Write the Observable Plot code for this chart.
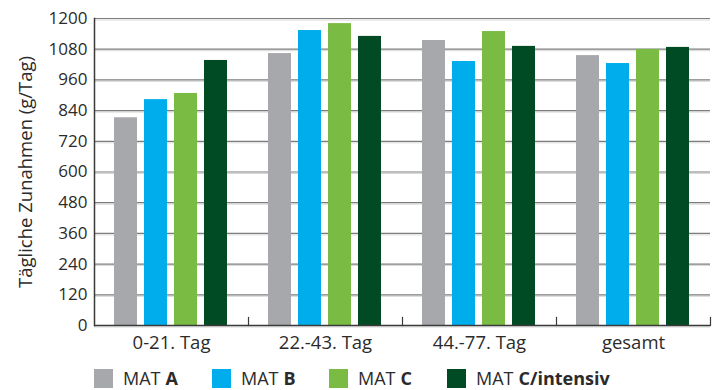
<!DOCTYPE html>
<html>
<head>
<meta charset="utf-8">
<script src="https://cdn.jsdelivr.net/npm/d3@7"></script>
<script src="https://cdn.jsdelivr.net/npm/@observablehq/plot@0.6"></script>
<style>
  html, body { margin: 0; padding: 0; background: #fff; }
  body { width: 713px; height: 390px; overflow: hidden; font-family: "Open Sans", sans-serif; }
  #legend { display: flex; position: relative; height: 30px; }
  .item { position: absolute; top: 6px; display: flex; align-items: center; font-size: 18px; color: #2b2b2b; }
  .sw { width: 19px; height: 19px; margin-right: 10px; }
  .item b { font-weight: 700; margin-left: 5px; }
</style>
</head>
<body>
<div id="chart"></div>
<div id="legend"></div>
<script>
const periods = ["0-21. Tag", "22.-43. Tag", "44.-77. Tag", "gesamt"];
const series = ["MAT A", "MAT B", "MAT C", "MAT C/intensiv"];
const legendPrefix = "MAT";
const legendBold = ["A", "B", "C", "C/intensiv"];
const valuesA = [812, 1063, 1114, 1055];
const valuesB = [883, 1153, 1032, 1024];
const valuesC = [907, 1180, 1149, 1079];
const valuesCi = [1036, 1130, 1091, 1087];
const yTicks = [0, 120, 240, 360, 480, 600, 720, 840, 960, 1080, 1200];
const colors = ["#a7a8ab", "#00adec", "#79bb43", "#004b24"];
const legendX = [94, 212, 329, 447];

const allValues = [valuesA, valuesB, valuesC, valuesCi];
const data = [];
periods.forEach((p, i) => {
  series.forEach((s, j) => data.push({period: p, series: s, value: allValues[j][i]}));
});

const chart = Plot.plot({
  width: 713,
  height: 360,
  marginLeft: 94,
  marginRight: 3,
  marginTop: 18,
  marginBottom: 35,
  style: {fontFamily: "Open Sans, sans-serif", fontSize: "17px", color: "#2b2b2b", background: "#fff"},
  fx: {domain: periods, padding: 0, label: null},
  x: {domain: series, paddingInner: 0.22, paddingOuter: 0.62, axis: null},
  y: {domain: [0, 1200], ticks: yTicks},
  color: {domain: series, range: colors},
  marks: [
    Plot.gridY(yTicks, {stroke: "#d8d8d8", strokeOpacity: 1, strokeWidth: 1, dy: 1.5}),
    Plot.gridY(yTicks, {stroke: "#7d7d7d", strokeOpacity: 1, strokeWidth: 1.2}),
    Plot.barY(data, {fx: "period", x: "series", y: "value", fill: "series"}),
    Plot.ruleY([0], {stroke: "#3a3a3a", strokeWidth: 1.5}),
    Plot.frame({anchor: "right", stroke: "#3a3a3a", strokeWidth: 1.2, insetTop: 299}),
    Plot.frame({anchor: "left", facetAnchor: "left", stroke: "#3a3a3a", strokeWidth: 1.5}),
    Plot.axisY({ticks: yTicks, tickSize: 0, tickPadding: 7, fontSize: 17, tickFormat: d => String(d), label: "Tägliche Zunahmen (g/Tag)", labelAnchor: "center", labelArrow: "none", labelOffset: 76}),
    Plot.axisFx({anchor: "bottom", tickSize: 0, tickPadding: 10, fontSize: 18.5, label: null})
  ]
});
document.getElementById("chart").appendChild(chart);
chart.querySelectorAll("g[aria-label='y-axis label'] text").forEach(el => { el.style.fontSize = "18.5px"; });

const legend = document.getElementById("legend");
series.forEach((s, i) => {
  const item = document.createElement("div");
  item.className = "item";
  item.style.left = legendX[i] + "px";
  const sw = document.createElement("span");
  sw.className = "sw";
  sw.style.background = colors[i];
  const t = document.createElement("span");
  t.textContent = legendPrefix;
  const b = document.createElement("b");
  b.textContent = legendBold[i];
  item.append(sw, t, b);
  legend.appendChild(item);
});
</script>
</body>
</html>
